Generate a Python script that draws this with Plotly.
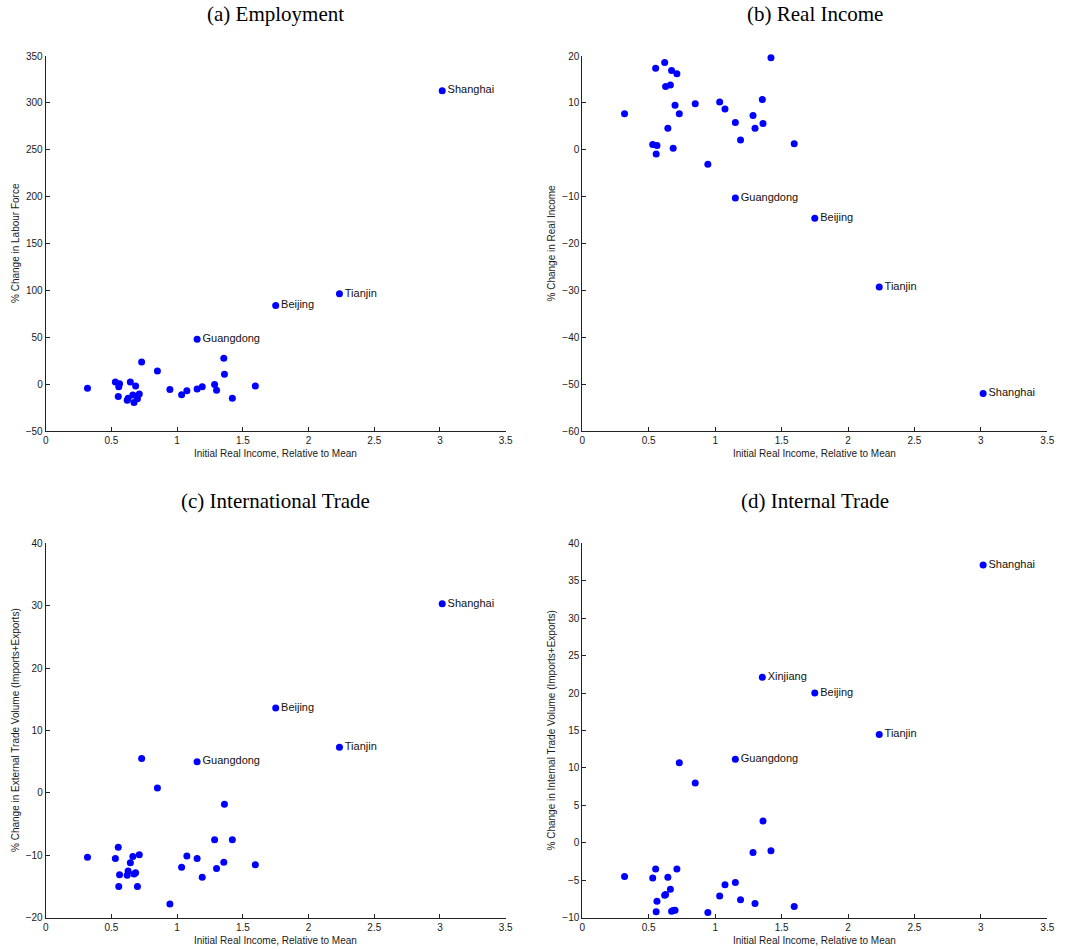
import plotly.graph_objects as go

# Initial real income relative to the national mean (one entry per province)
income_rel = [0.318, 0.530, 0.552, 0.556, 0.562, 0.620, 0.627, 0.644, 0.663, 0.672,
              0.684, 0.698, 0.712, 0.730, 0.850, 0.945, 1.034, 1.074, 1.152, 1.191,
              1.285, 1.300, 1.355, 1.360, 1.420, 1.595, 1.152, 1.750, 2.235, 3.017]

# % change in labour force
employment = [-4.5, 2.3, -13.2, -2.8, 0.5, -17.1, -15.0, 2.2, -11.5, -19.5,
              -2.1, -15.5, -10.5, 23.5, 14.0, -5.6, -11.3, -7.0, -5.2, -2.8,
              -0.3, -6.6, 27.5, 10.6, -15.0, -2.0, 47.8, 84.0, 96.3, 313.0]

# % change in real income
real_income = [7.7, 1.1, 17.4, -0.9, 0.9, 18.6, 13.5, 4.6, 13.8, 16.9,
               0.3, 9.5, 16.2, 7.7, 9.8, -3.1, 10.2, 8.7, 5.8, 2.1,
               7.3, 4.6, 10.7, 5.6, 19.6, 1.3, -10.3, -14.6, -29.3, -52.0]

# % change in external trade volume (imports + exports)
external_trade = [-10.3, -10.5, -8.7, -15.0, -13.1, -13.2, -12.5, -11.2, -10.2, -13.0,
                  -12.8, -15.0, -9.9, 5.5, 0.8, -17.8, -11.9, -10.1, -10.5, -13.5,
                  -7.5, -12.1, -11.1, -1.8, -7.5, -11.5, 5.0, 13.6, 7.3, 30.3]

# % change in internal trade volume (imports + exports)
internal_trade = [-4.5, -4.7, -3.5, -9.2, -7.8, -7.0, -6.9, -4.6, -6.2, -9.15,
                  -9.05, -9.0, -3.5, 10.7, 8.0, -9.3, -7.1, -5.6, -5.3, -7.6,
                  -1.3, -8.1, 22.1, 2.9, -1.05, -8.5, 11.15, 20.0, 14.45, 37.1]

# Point labels (blank for unlabelled provinces)
labels_main = [""] * 26 + ["Guangdong", "Beijing", "Tianjin", "Shanghai"]
labels_internal = [""] * 22 + ["Xinjiang"] + [""] * 3 + ["Guangdong", "Beijing", "Tianjin", "Shanghai"]

panel_titles = ["(a) Employment", "(b) Real Income", "(c) International Trade", "(d) Internal Trade"]
y_titles = ["% Change in Labour Force", "% Change in Real Income",
            "% Change in External Trade Volume (Imports+Exports)",
            "% Change in Internal Trade Volume (Imports+Exports)"]
x_title = "Initial Real Income, Relative to Mean"
x_ticks = [0, 0.5, 1, 1.5, 2, 2.5, 3, 3.5]
y_ranges = [(-50, 350), (-60, 20), (-20, 40), (-10, 40)]
y_steps = [50, 10, 10, 5]

W, H = 1069, 949
x_px = [(45.7, 505.7), (582.3, 1047.3)]
y_px = [(56.0, 431.0), (543.3, 917.7)]
x_domains = [(a / W, b / W) for a, b in x_px]
y_domains = [(1 - b / H, 1 - a / H) for a, b in y_px]
ytitle_px = [15.5, 551.0]

series = [employment, real_income, external_trade, internal_trade]
labels = [labels_main, labels_main, labels_main, labels_internal]

fig = go.Figure()
sans = "Liberation Sans, Arial, sans-serif"
axis_font = dict(family=sans, size=10, color="#1a1a1a")

for i in range(4):
    row, col = divmod(i, 2)
    suffix = "" if i == 0 else str(i + 1)
    fig.add_trace(go.Scatter(
        x=income_rel, y=series[i], text=labels[i],
        mode="markers+text", textposition="middle right",
        textfont=dict(family=sans, size=11, color="#111111"),
        marker=dict(color="#0000ff", size=7, line=dict(width=0)),
        cliponaxis=False, showlegend=False,
        xaxis="x" + suffix, yaxis="y" + suffix,
    ))
    common = dict(
        showline=True, linecolor="#222222", linewidth=1, mirror=False,
        ticks="inside", ticklen=4, tickcolor="#222222", tickwidth=1,
        showgrid=False, zeroline=False, tickfont=axis_font, automargin=False,
    )
    fig.layout["xaxis" + suffix] = dict(
        domain=x_domains[col], range=[0, 3.5], tickvals=x_ticks,
        anchor="y" + suffix, **common)
    fig.layout["yaxis" + suffix] = dict(
        domain=y_domains[row], range=list(y_ranges[i]), dtick=y_steps[i],
        anchor="x" + suffix, **common)

    xc = (x_domains[col][0] + x_domains[col][1]) / 2
    yc = (y_domains[row][0] + y_domains[row][1]) / 2
    # panel title
    fig.add_annotation(
        text=panel_titles[i], x=xc, y=1 - (y_px[row][0] - 42) / H,
        xref="paper", yref="paper", xanchor="center", yanchor="middle",
        showarrow=False,
        font=dict(family="Liberation Serif, Times New Roman, serif", size=21, color="#000000"))
    # x-axis title
    fig.add_annotation(
        text=x_title, x=xc, y=1 - (y_px[row][1] + 22.5) / H,
        xref="paper", yref="paper", xanchor="center", yanchor="middle",
        showarrow=False, font=axis_font)
    # y-axis title
    fig.add_annotation(
        text=y_titles[i], x=ytitle_px[col] / W, y=yc, textangle=-90,
        xref="paper", yref="paper", xanchor="center", yanchor="middle",
        showarrow=False, font=axis_font)

fig.update_layout(
    width=W, height=H, margin=dict(l=0, r=0, t=0, b=0),
    paper_bgcolor="white", plot_bgcolor="white",
)

fig.write_html("out.html")
